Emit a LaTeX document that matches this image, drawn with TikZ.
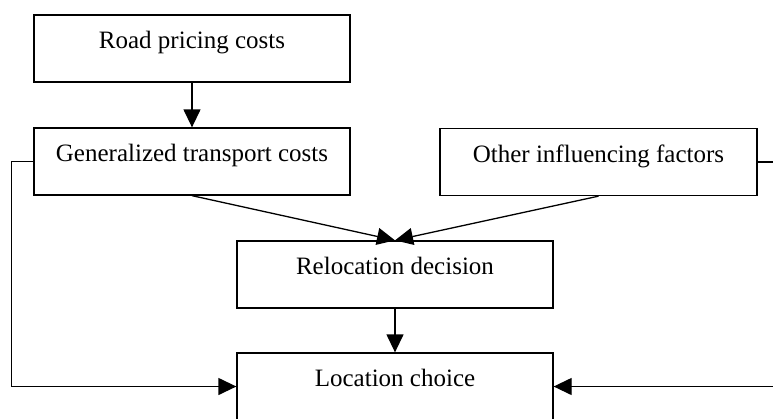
\documentclass[tikz,border=0pt]{standalone}
\usepackage{fontspec}
\setmainfont{Liberation Serif}
\usetikzlibrary{arrows.meta}

\begin{document}
\begin{tikzpicture}[x=1pt, y=-1pt, line width=1.3pt,
    box/.style={draw, rectangle, inner sep=0pt, minimum height=67pt,
        text height=33.5pt, text depth=33.5pt,
        font=\fontsize{25}{30}\selectfont},
    >={Triangle[length=18pt,width=17pt]}]
    \clip (0,0) rectangle (773,418);

    \node[box, minimum width=316pt] (road) at (192,48.5){Road pricing costs};
    \node[box, minimum width=316pt] (gtc) at (192,161.5){Generalized transport costs};
    \node[box, minimum width=317pt] (other) at (598.5,162){Other influencing factors};
    \node[box, minimum width=316pt] (reloc) at (395,274.5){Relocation decision};
    \node[box, minimum width=316pt] (loc) at (395,386.5){Location choice};

    \draw[->] (road.south) -- (gtc.north);
    \draw[->] (gtc.south) -- (reloc.north);
    \draw[->] (other.south) -- (reloc.north);
    \draw[->] (reloc.south) -- (loc.north);
    \draw[->] (gtc.west) -- ++(-22,0) |- (loc.west);
    \draw[->] (other.east) -- ++(20,0) |- (loc.east);
\end{tikzpicture}
\end{document}
